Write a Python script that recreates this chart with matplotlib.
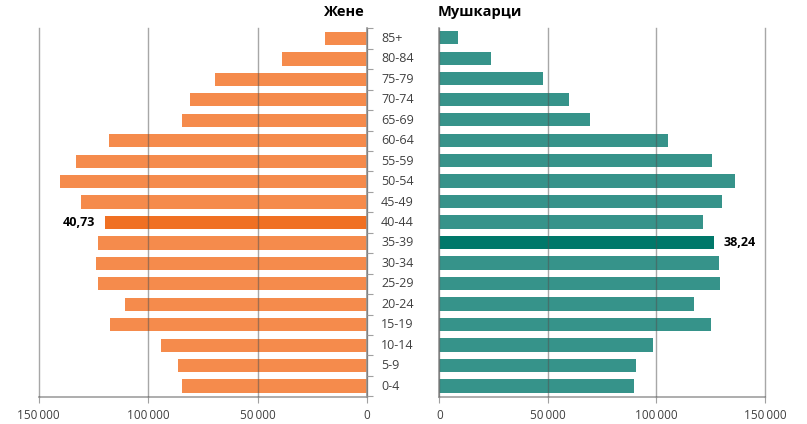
import matplotlib
matplotlib.use("Agg")
import matplotlib.pyplot as plt
import matplotlib.transforms as mtransforms
import numpy as np

plt.rcParams['font.family'] = ['Open Sans', 'DejaVu Sans']

ages = ["0-4", "5-9", "10-14", "15-19", "20-24", "25-29", "30-34", "35-39", "40-44",
        "45-49", "50-54", "55-59", "60-64", "65-69", "70-74", "75-79", "80-84", "85+"]
women = [84500, 86200, 93900, 117400, 110600, 122800, 123900, 122800, 119600,
         130600, 140200, 132900, 117800, 84500, 80700, 69400, 39000, 19000]
men = [89600, 90700, 98500, 125100, 117300, 129500, 129000, 126400, 121600,
       130100, 136200, 125600, 105300, 69400, 59700, 47600, 23900, 8600]
women_highlight = "40-44"
men_highlight = "35-39"
women_label = "40,73"
men_label = "38,24"
title_women = "Жене"
title_men = "Мушкарци"
xticks = [0, 50000, 100000, 150000]
xticklabels = ["0", "50\u2009000", "100\u2009000", "150\u2009000"]

ORANGE = "#F58B4C"
ORANGE_D = "#F07023"
TEAL = "#36938A"
TEAL_D = "#00786A"
TXT = "#404040"

W, H = 807, 424
fig = plt.figure(figsize=(W / 100, H / 100), dpi=100)

bottom = (H - 396.7) / H
height = 368.4 / H
axL = fig.add_axes([38.7 / W, bottom, (367 - 38.7) / W, height])
axR = fig.add_axes([439.3 / W, bottom, (765 - 439.3) / W, height])

y = np.arange(len(ages))
colsL = [ORANGE_D if a == women_highlight else ORANGE for a in ages]
colsR = [TEAL_D if a == men_highlight else TEAL for a in ages]

axL.barh(y, women, height=0.65, color=colsL, zorder=2)
axR.barh(y, men, height=0.65, color=colsR, zorder=2)

for ax in (axL, axR):
    ax.set_ylim(-0.52, 17.46)
    ax.set_xticks(xticks)
    ax.set_xticklabels(xticklabels, fontsize=8.5, color=TXT)
    ax.tick_params(axis='x', length=4, color="#a0a0a0", pad=5)
    ax.grid(axis='x', color="#505050", alpha=0.5, linewidth=1, zorder=3)
    ax.set_axisbelow(False)
    for s in ax.spines.values():
        s.set_color("#a0a0a0")
        s.set_linewidth(1.2)
    ax.spines['top'].set_visible(False)

axL.set_xlim(150000, 0)
axR.set_xlim(0, 150000)

for ax in (axL, axR):
    for gl in ax.get_xgridlines():
        gl.set_clip_on(False)

axL.spines['left'].set_visible(False)
axL.yaxis.tick_right()
axL.set_yticks(np.arange(-0.5, len(ages), 1.0))
axL.set_yticklabels([])
axL.tick_params(axis='y', length=4, color="#a0a0a0", direction='out')

axR.spines['right'].set_visible(False)
axR.set_yticks([])

# age labels between the two panels
tr = mtransforms.blended_transform_factory(fig.transFigure, axL.transData)
for yi, a in zip(y, ages):
    fig.text(381 / W, yi, a, transform=tr, ha='left', va='center',
             fontsize=9, color=TXT)

# highlight annotations
iw = ages.index(women_highlight)
axL.annotate(women_label, xy=(women[iw], iw), xytext=(-7, 0),
             textcoords='offset points', ha='right', va='center',
             fontsize=9, fontweight='bold', color='black')
im = ages.index(men_highlight)
axR.annotate(men_label, xy=(men[im], im), xytext=(7, 0),
             textcoords='offset points', ha='left', va='center',
             fontsize=9, fontweight='bold', color='black')

fig.text(365 / W, 1 - 12 / H, title_women, ha='right', va='center',
         fontsize=10.5, fontweight='bold', color='black')
fig.text(438 / W, 1 - 12 / H, title_men, ha='left', va='center',
         fontsize=10.5, fontweight='bold', color='black')

fig.savefig("out.png", dpi=100)
